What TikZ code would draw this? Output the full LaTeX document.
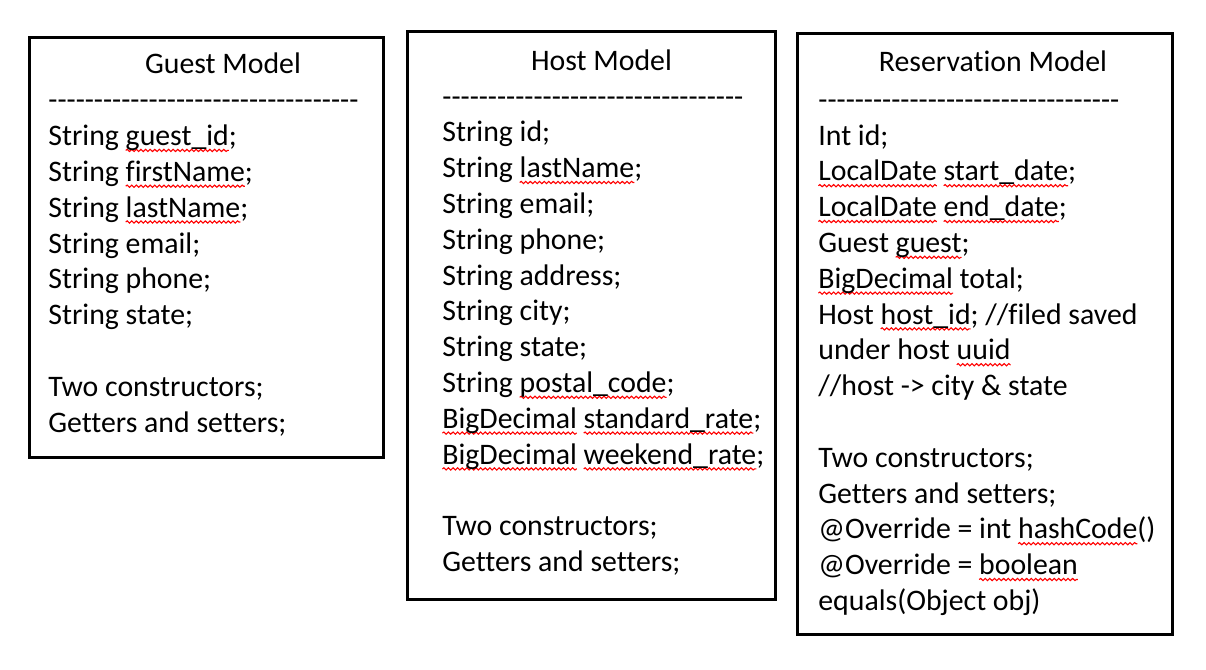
\documentclass[tikz,border=0pt]{standalone}
\usepackage{fontspec}
\setmainfont{Carlito}[Ligatures=CommonOff]
\usetikzlibrary{shapes,decorations.pathmorphing}

% red wavy spell-check underline
\newsavebox\spellbox
\newcommand\spell[1]{\sbox\spellbox{#1}\rlap{\tikz[overlay, baseline=0pt]
    \draw [red, line width=0.55pt, decorate, decoration={snake, amplitude=0.55pt, segment length=2.3pt}] (0pt,-2.4pt) -- (\wd\spellbox,-2.4pt);}\usebox\spellbox}
\newcommand\dashline[1]{\foreach \k in {1,...,#1}{-{}}}

\begin{document}
\begin{tikzpicture}[x=0.5pt, y=-0.5pt]
    \tikzstyle{model} = [rectangle, draw, line width=1.5pt, inner sep=0pt]
    \tikzstyle{title} = [inner sep=0pt, anchor=base, font=\fontsize{14.9pt}{17.9pt}\selectfont]
    % anchored at the baseline of the last line
    \tikzstyle{fields} = [inner sep=0pt, anchor=base west, align=left, font=\fontsize{14.9pt}{17.9pt}\selectfont]

    \useasboundingbox (0,0) rectangle (1206,670);

    \node [model, minimum width=177pt, minimum height=210pt] (guest) at (206,247) {};
    \node [model, minimum width=184pt, minimum height=284pt] (host) at (591,315) {};
    \node [model, minimum width=187.5pt, minimum height=300.5pt] (reservation) at (984.5,333.5) {};

    \node [title] (guesttitle) at (223,73) {Guest Model};
    \node [title] (hosttitle) at (601.5,70) {Host Model};
    \node [title] (reservationtitle) at (993,71) {Reservation Model};

    \node [fields] (guestfields) at (48,432) {\dashline{34}\\
        String \spell{guest\_id};\\
        String \spell{firstName};\\
        String \spell{lastName};\\
        String email;\\
        String phone;\\
        String state;\\[\baselineskip]
        Two constructors;\\
        Getters and setters;};

    \node [fields] (hostfields) at (442,571.5) {\dashline{33}\\
        String id;\\
        String \spell{lastName};\\
        String email;\\
        String phone;\\
        String address;\\
        String city;\\
        String state;\\
        String \spell{postal\_code};\\
        \spell{BigDecimal} \spell{standard\_rate};\\
        \spell{BigDecimal} \spell{weekend\_rate};\\[\baselineskip]
        Two constructors;\\
        Getters and setters;};

    \node [fields] (reservationfields) at (818,610.5) {\dashline{33}\\
        Int id;\\
        \spell{LocalDate} \spell{start\_date};\\
        \spell{LocalDate} \spell{end\_date};\\
        Guest \spell{guest};\\
        \spell{BigDecimal} total;\\
        Host \spell{host\_id}; //filed saved\\
        under host \spell{uuid}\\
        //host -> city \& state\\[\baselineskip]
        Two constructors;\\
        Getters and setters;\\
        @Override = int \spell{hashCode}()\\
        @Override = \spell{boolean}\\
        equals(Object obj)};
\end{tikzpicture}
\end{document}
